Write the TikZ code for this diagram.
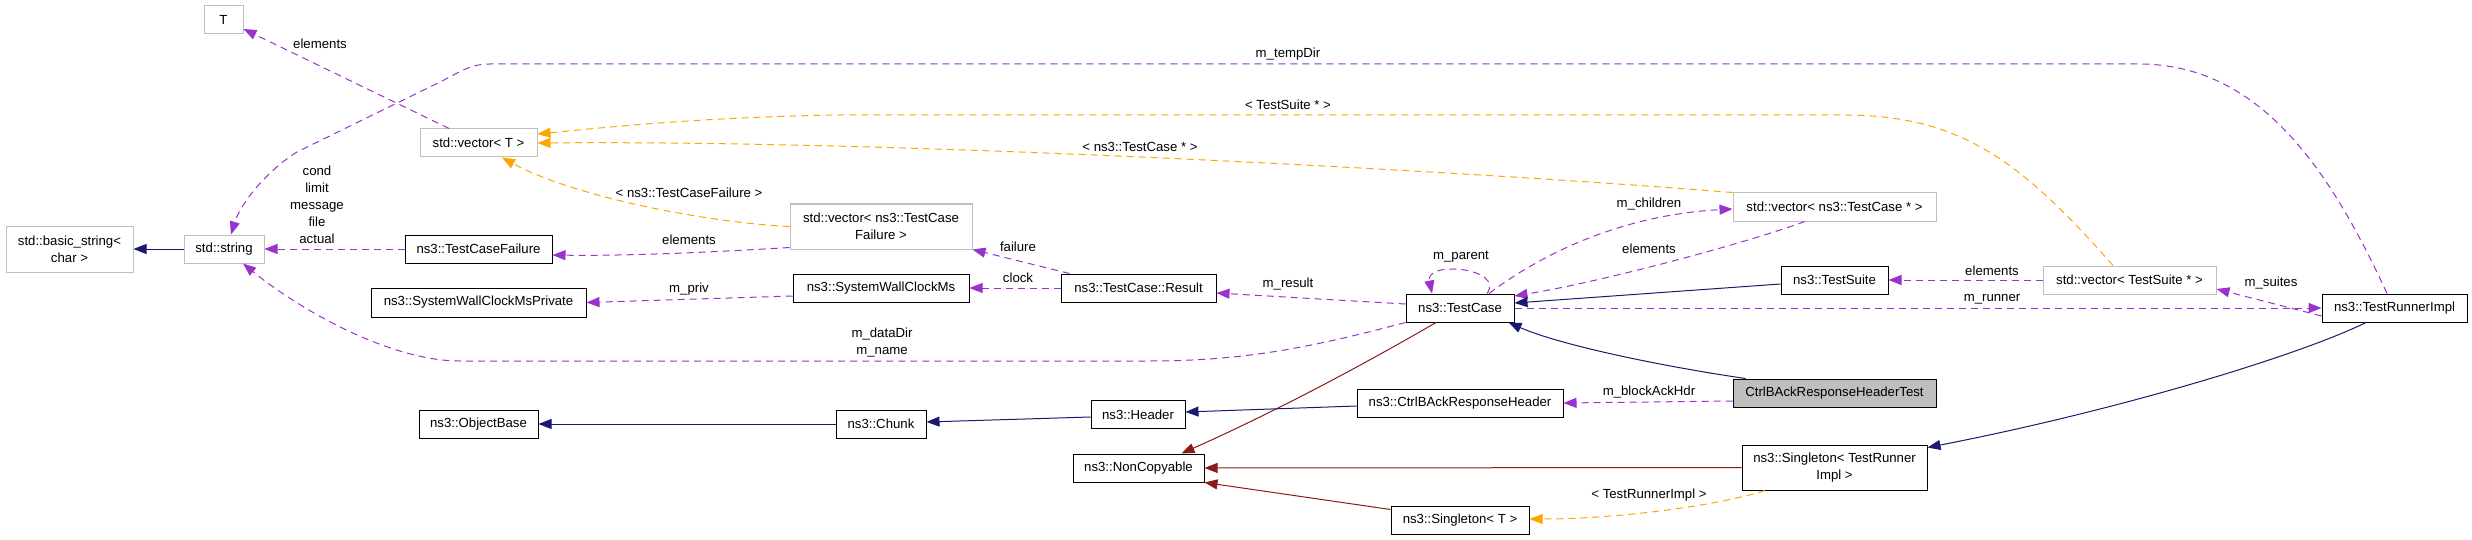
\documentclass[tikz,border=0pt]{standalone}
\usepackage{fontspec}
\setmainfont{Liberation Sans}
\usetikzlibrary{arrows.meta}
\definecolor{navyc}{HTML}{191970}
\definecolor{purpc}{HTML}{9A32CD}
\definecolor{orngc}{HTML}{FFA500}
\definecolor{redc}{HTML}{8B1A1A}
\definecolor{grayc}{HTML}{BFBFBF}
\newcommand{\lab}{\fontsize{13.2}{17}\selectfont}
\begin{document}
\begin{tikzpicture}[x=1pt,y=-1pt,
  box/.style={draw=black, line width=1pt, fill=white, font=\lab, align=center, inner sep=0pt},
  gbox/.style={box, draw=grayc},
  sz/.style 2 args={minimum width=#1pt, minimum height=#2pt},
  tipk/.style={-{Triangle[length=13pt,width=10pt]}},
  inh/.style={draw=navyc, line width=1pt, tipk},
  use/.style={draw=purpc, line width=1pt, dash pattern=on 7pt off 5pt, tipk},
  tmpl/.style={draw=orngc, line width=1pt, dash pattern=on 7pt off 5pt, tipk},
  prv/.style={draw=redc, line width=1pt, tipk},
  lbl/.style={font=\lab, align=center, inner sep=0pt}]
\useasboundingbox (0,0) rectangle (2472,540);
\fill[white] (0,0) rectangle (2472,540);

% nodes
\node[gbox, sz={39}{28}] (T) at (223.5,20) {T};
\node[gbox, sz={117}{28}] (vecT) at (478.5,143) {std::vector< T >};
\node[gbox, sz={127}{46}] (bstr) at (69.5,249) {std::basic\_string<\\char >};
\node[gbox, sz={80}{28}] (str) at (224,249) {std::string};
\node[box, sz={147}{28}] (tcf) at (478.5,249) {ns3::TestCaseFailure};
\node[box, sz={215}{29}] (swcmp) at (478.5,302.5) {ns3::SystemWallClockMsPrivate};
\node[box, sz={119}{28}] (objb) at (478.5,424) {ns3::ObjectBase};
\node[gbox, sz={182}{45}] (vtcf) at (881,226.5) {std::vector< ns3::TestCase\\Failure >};
\node[box, sz={176}{28}] (swcm) at (881,288) {ns3::SystemWallClockMs};
\node[box, sz={155}{28}] (res) at (1138.5,288) {ns3::TestCase::Result};
\node[box, sz={90}{28}] (chunk) at (881,424) {ns3::Chunk};
\node[box, sz={94}{28}] (header) at (1138,414.5) {ns3::Header};
\node[box, sz={131}{28}] (nonc) at (1138.5,468) {ns3::NonCopyable};
\node[gbox, sz={203}{28}] (vtc) at (1834.5,207) {std::vector< ns3::TestCase * >};
\node[box, sz={108}{28}] (tc) at (1460,308) {ns3::TestCase};
\node[box, sz={107}{28}] (ts) at (1834.5,280) {ns3::TestSuite};
\node[box, sz={203}{28}, fill=grayc] (test) at (1834.5,393) {CtrlBAckResponseHeaderTest};
\node[box, sz={206}{28}] (cbarh) at (1460,403) {ns3::CtrlBAckResponseHeader};
\node[box, sz={185}{45}] (stri) at (1834.5,467.5) {ns3::Singleton< TestRunner\\Impl >};
\node[box, sz={138}{28}] (st) at (1460,520) {ns3::Singleton< T >};
\node[gbox, sz={173}{28}] (vts) at (2129.5,280) {std::vector< TestSuite * >};
\node[box, sz={145}{28}] (tri) at (2394.5,308) {ns3::TestRunnerImpl};

% edges
\draw[inh] (str) -- (bstr);
\draw[use] (tcf) -- (str);
\draw[use] ([yshift=2pt]vtcf.south west) .. controls (700,253) and (620,256) .. ([yshift=-6pt]tcf.east);
\draw[tmpl] (vtcf.west) .. controls (700,222) and (570,195) .. ([xshift=23.5pt]vecT.south);
\draw[tmpl] (vtc.north west) .. controls (1450,170) and (900,140) .. (vecT.east);
\draw[tmpl] ([xshift=-16.5pt]vts.north) .. controls (2020,160) and (1960,115) .. (1843,115) -- (840,115) .. controls (700,117) and (600,128) .. ([yshift=9pt]vecT.east);
\draw[use] ([xshift=-29.5pt]vecT.north) -- ([yshift=-9pt]T.east);
\draw[use] ([xshift=-7.5pt]tri.north) .. controls (2330,170) and (2260,64) .. (2139,64) -- (490,64) .. controls (470,64) and (460,72) .. (440,82) -- (297,152) .. controls (265,172) and (240,205) .. ([xshift=7pt]str.north);
\draw[use] (tc.south west) .. controls (1320,345) and (1250,361) .. (1150,361) -- (460,361) .. controls (390,361) and (300,310) .. ([xshift=19pt]str.south);
\draw[use] ([yshift=-8pt]swcm.west) -- (swcmp.east);
\draw[use] ([xshift=9pt]res.north west) -- (vtcf.south east);
\draw[use] (res) -- (swcm);
\draw[use] ([yshift=4pt]tc.west) -- ([yshift=-5pt]res.east);
\draw[use] ([xshift=27pt]tc.north) .. controls (1505,268) and (1425,260) .. ([xshift=-28pt]tc.north);
\draw[use] ([xshift=29pt]tc.north) .. controls (1540,255) and (1620,215) .. ([yshift=-2pt]vtc.west);
\draw[use] ([xshift=-29.5pt]vtc.south) .. controls (1740,245) and (1600,282) .. ([yshift=12pt]tc.east);
\draw[inh] ([yshift=-4pt]ts.west) -- ([yshift=5pt]tc.east);
\draw[inh] ([xshift=13pt]test.north west) .. controls (1660,366) and (1560,345) .. ([xshift=-6pt]tc.south east);
\draw[prv] ([xshift=-24pt]tc.south) .. controls (1380,355) and (1290,405) .. ([xshift=-23pt]nonc.north east);
\draw[inh] ([yshift=-2.5pt]header.west) -- ([yshift=2pt]chunk.east);
\draw[inh] (chunk) -- (objb);
\draw[inh] ([yshift=-3pt]cbarh.west) -- ([yshift=2.5pt]header.east);
\draw[use] ([yshift=-8pt]test.west) -- (cbarh.east);
\draw[prv] (stri) -- (nonc);
\draw[prv] ([yshift=-4pt]st.north west) -- (nonc.south east);
\draw[tmpl] ([xshift=-69.5pt]stri.south) .. controls (1720,505) and (1620,519) .. ([yshift=1pt]st.east);
\draw[inh] ([xshift=-28.5pt]tri.south) .. controls (2300,355) and (2120,410) .. ([yshift=-3pt]stri.north east);
\draw[use] (vts) -- (ts);
\draw[use] ([yshift=-8pt]tri.west) -- ([yshift=-9pt]vts.east);
\draw[use] (tc) -- (tri);

% labels
\node[lbl] (l1) at (320,44) {elements};
\node[lbl] (l2) at (1288,54) {m\_tempDir};
\node[lbl] (l3) at (1288,105) {< TestSuite * >};
\node[lbl] (l4) at (1140,147) {< ns3::TestCase * >};
\node[lbl] (l5) at (317,205) {cond\\limit\\message\\file\\actual};
\node[lbl] (l6) at (689,193) {< ns3::TestCaseFailure >};
\node[lbl] (l7) at (689,240) {elements};
\node[lbl] (l8) at (689,289) {m\_priv};
\node[lbl] (l9) at (1018,247) {failure};
\node[lbl] (l10) at (1018,278) {clock};
\node[lbl] (l11) at (882,343) {m\_dataDir\\m\_name};
\node[lbl] (l12) at (1288,284) {m\_result};
\node[lbl] (l13) at (1461,257) {m\_parent};
\node[lbl] (l14) at (1649,204) {m\_children};
\node[lbl] (l15) at (1649,249) {elements};
\node[lbl] (l16) at (1649,392) {m\_blockAckHdr};
\node[lbl] (l17) at (1649,495) {< TestRunnerImpl >};
\node[lbl] (l18) at (1992,271) {elements};
\node[lbl] (l19) at (1992,299) {m\_runner};
\node[lbl] (l20) at (2271,283) {m\_suites};
\end{tikzpicture}
\end{document}
